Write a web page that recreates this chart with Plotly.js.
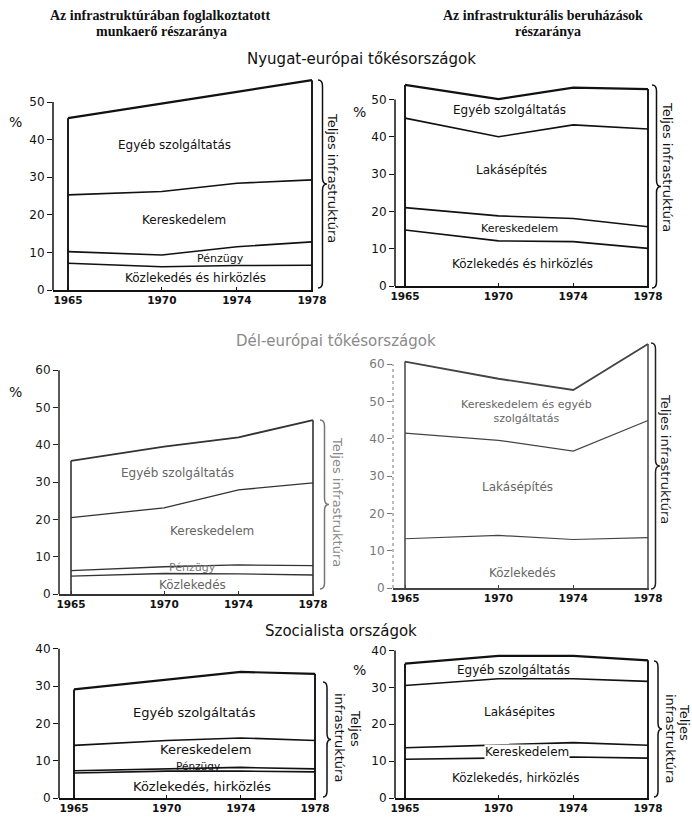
<!DOCTYPE html>
<html><head><meta charset="utf-8">
<script src="https://cdn.plot.ly/plotly-3.0.1.min.js"></script>
<style>body{margin:0;background:#fff}</style>
</head><body><div id="chart" style="width:692px;height:821px"></div>
<script>
// ---------- DATA ----------
const years = [1965, 1970, 1974, 1978];
const xTickText = ['1965', '1970', '1974', '1978'];

// 1: Nyugat-európai – foglalkoztatott munkaerő
const p1Kozl  = [7.1, 6.2, 6.5, 6.6];
const p1Penz  = [3.1, 3.1, 5.0, 6.2];
const p1Ker   = [15.1, 16.9, 16.9, 16.5];
const p1Egyeb = [20.4, 23.5, 24.3, 26.5];
// 2: Nyugat-európai – beruházások
const p2Kozl  = [15.0, 12.1, 11.9, 10.1];
const p2Ker   = [6.0, 6.7, 6.2, 5.8];
const p2Lakas = [24.0, 21.2, 25.1, 26.2];
const p2Egyeb = [8.9, 10.1, 10.0, 10.7];
// 3: Dél-európai – foglalkoztatott munkaerő
const p3Kozl  = [4.8, 5.5, 5.4, 5.1];
const p3Penz  = [1.45, 1.8, 2.4, 2.5];
const p3Ker   = [14.25, 15.8, 20.1, 22.2];
const p3Egyeb = [15.2, 16.4, 14.1, 16.8];
// 4: Dél-európai – beruházások
const p4Kozl     = [13.2, 14.1, 13.0, 13.5];
const p4Lakas    = [28.3, 25.5, 23.7, 31.4];
const p4KerEgyeb = [19.2, 16.5, 16.4, 20.5];
// 5: Szocialista – foglalkoztatott munkaerő
const p5Kozl  = [6.7, 7.2, 7.2, 7.0];
const p5Penz  = [0.6, 0.6, 1.0, 0.8];
const p5Ker   = [6.8, 7.6, 7.9, 7.6];
const p5Egyeb = [15.0, 16.4, 17.7, 17.9];
// 6: Szocialista – beruházások
const p6Kozl  = [10.5, 10.8, 11.1, 10.8];
const p6Ker   = [3.1, 3.5, 3.9, 3.5];
const p6Lakas = [16.9, 18.0, 17.3, 17.3];
const p6Egyeb = [5.9, 6.2, 6.2, 5.7];

const yTicks1 = [0, 10, 20, 30, 40, 50];
const yTicks2 = [0, 10, 20, 30, 40, 50];
const yTicks3 = [0, 10, 20, 30, 40, 50, 60];
const yTicks4 = [0, 10, 20, 30, 40, 50, 60];
const yTicks5 = [0, 10, 20, 30, 40];
const yTicks6 = [0, 10, 20, 30, 40];

// ---------- LAYOUT GEOMETRY (pixels) ----------
const W = 692, H = 821;
const FONT = 'DejaVu Sans';
const geo = [
  {ax: 53,  x65: 68,  x78: 312, xr: 313, y0: 290, ppu: 3.76, ytop: 57},
  {ax: 395, x65: 405, x78: 648, xr: 649, y0: 286, ppu: 3.73, ytop: 55},
  {ax: 59,  x65: 71,  x78: 313, xr: 314, y0: 594, ppu: 3.73, ytop: 62},
  {ax: 393, x65: 405, x78: 648, xr: 649, y0: 588, ppu: 3.73, ytop: 67},
  {ax: 59,  x65: 74,  x78: 315, xr: 316, y0: 798, ppu: 3.73, ytop: 41},
  {ax: 395, x65: 405, x78: 648, xr: 649, y0: 798, ppu: 3.69, ytop: 41}
];
const panels = [
  {series: [p1Kozl, p1Penz, p1Ker, p1Egyeb], names: ['Közlekedés és hirközlés','Pénzügy','Kereskedelem','Egyéb szolgáltatás'], ticks: yTicks1, color: '#111', w: 1.6},
  {series: [p2Kozl, p2Ker, p2Lakas, p2Egyeb], names: ['Közlekedés és hirközlés','Kereskedelem','Lakásépítés','Egyéb szolgáltatás'], ticks: yTicks2, color: '#111', w: 1.6},
  {series: [p3Kozl, p3Penz, p3Ker, p3Egyeb], names: ['Közlekedés','Pénzügy','Kereskedelem','Egyéb szolgáltatás'], ticks: yTicks3, color: '#333', w: 1.3},
  {series: [p4Kozl, p4Lakas, p4KerEgyeb], names: ['Közlekedés','Lakásépítés','Kereskedelem és egyéb szolgáltatás'], ticks: yTicks4, color: '#444', w: 1.2},
  {series: [p5Kozl, p5Penz, p5Ker, p5Egyeb], names: ['Közlekedés, hirközlés','Pénzügy','Kereskedelem','Egyéb szolgáltatás'], ticks: yTicks5, color: '#111', w: 1.6},
  {series: [p6Kozl, p6Ker, p6Lakas, p6Egyeb], names: ['Közlekedés, hirközlés','Kereskedelem','Lakásépites','Egyéb szolgáltatás'], ticks: yTicks6, color: '#111', w: 1.6}
];

const traces = [];
const layout = {
  width: W, height: H, margin: {l: 0, r: 0, t: 0, b: 0},
  paper_bgcolor: '#fff', plot_bgcolor: 'rgba(0,0,0,0)',
  showlegend: false, font: {family: FONT, color: '#111'},
  annotations: [], shapes: []
};

panels.forEach((p, i) => {
  const g = geo[i];
  const n = i + 1;
  const xa = n === 1 ? 'x' : 'x' + n, ya = n === 1 ? 'y' : 'y' + n;
  const ppy = (g.x78 - g.x65) / 13;
  const tickCol = i === 3 ? '#777' : (i === 2 ? '#222' : '#111');
  layout['xaxis' + (n === 1 ? '' : n)] = {
    domain: [g.ax / W, g.xr / W], anchor: ya,
    range: [1965 - (g.x65 - g.ax) / ppy, 1978 + (g.xr - g.x78) / ppy],
    tickvals: years, ticktext: xTickText, ticks: 'inside', ticklen: 3,
    tickcolor: p.color, showline: true, linecolor: p.color, linewidth: 1.5,
    showgrid: false, zeroline: false, fixedrange: true,
    tickfont: {family: FONT, size: 10.5, color: '#111', weight: 'bold'}
  };
  layout['yaxis' + (n === 1 ? '' : n)] = {
    domain: [1 - g.y0 / H, 1 - (g.y0 - g.ytop * g.ppu) / H], anchor: xa,
    range: [0, g.ytop], tickvals: p.ticks, ticks: 'outside', ticklen: 5,
    tickcolor: tickCol, showline: false, showgrid: false, zeroline: false,
    fixedrange: true, tickfont: {family: FONT, size: 12, color: tickCol}
  };
  // y axis line up to highest tick
  layout.shapes.push({type: 'line', xref: xa + ' domain', yref: ya, x0: 0, x1: 0,
    y0: 0, y1: p.ticks[p.ticks.length - 1],
    line: {color: tickCol, width: i === 3 ? 1 : 1.5, dash: i === 3 ? 'dot' : 'solid'}});

  // stacked area boundaries
  p.series.forEach((s, k) => {
    const top = k === p.series.length - 1;
    traces.push({
      x: years, y: s, name: p.names[k], xaxis: xa, yaxis: ya,
      type: 'scatter', mode: 'lines', stackgroup: 's' + n,
      fillcolor: 'rgba(0,0,0,0)',
      line: {color: p.color, width: top ? p.w + 0.6 : p.w, shape: 'linear'},
      hoverinfo: 'skip'
    });
  });
  // vertical edges at first and last year
  const totFirst = p.series.reduce((a, s) => a + s[0], 0);
  const totLast = p.series.reduce((a, s) => a + s[s.length - 1], 0);
  traces.push({x: [years[0], years[0]], y: [0, totFirst], xaxis: xa, yaxis: ya,
    type: 'scatter', mode: 'lines', line: {color: p.color, width: p.w + 0.3}, hoverinfo: 'skip'});
  traces.push({x: [years[3], years[3]], y: [0, totLast], xaxis: xa, yaxis: ya,
    type: 'scatter', mode: 'lines', line: {color: p.color, width: p.w + 0.3}, hoverinfo: 'skip'});
});

// ---------- TEXT LABELS ----------
function lab(n, x, y, text, opts) {
  const xa = n === 1 ? 'x' : 'x' + n, ya = n === 1 ? 'y' : 'y' + n;
  layout.annotations.push(Object.assign({xref: xa, yref: ya, x: x, y: y, text: text,
    showarrow: false, font: {family: FONT, size: 12, color: '#111'}}, opts || {}));
}
function ptext(px, py, text, font, extra) {
  layout.annotations.push(Object.assign({xref: 'paper', yref: 'paper', x: px / W, y: 1 - py / H,
    text: text, showarrow: false, xanchor: 'center', yanchor: 'middle',
    font: Object.assign({family: FONT, size: 12, color: '#111'}, font)}, extra || {}));
}

lab(1, 1970.7, 38.6, 'Egyéb szolgáltatás');
lab(1, 1971.2, 18.6, 'Kereskedelem');
lab(1, 1973.1, 8.4, 'Pénzügy', {font: {family: FONT, size: 11, color: '#111'}});
lab(1, 1971.8, 3.2, 'Közlekedés és hirközlés');

lab(2, 1970.6, 47.2, 'Egyéb szolgáltatás');
lab(2, 1970.7, 31.1, 'Lakásépítés');
lab(2, 1971.1, 15.3, 'Kereskedelem', {font: {family: FONT, size: 11, color: '#111'}});
lab(2, 1971.3, 6.0, 'Közlekedés és hirközlés');

const grey = {family: FONT, size: 12, color: '#666'};
lab(3, 1970.7, 32.4, 'Egyéb szolgáltatás', {font: grey});
lab(3, 1972.6, 16.9, 'Kereskedelem', {font: grey});
lab(3, 1971.5, 7.0, 'Pénzügy', {font: {family: FONT, size: 11, color: '#777'}});
lab(3, 1971.5, 2.4, 'Közlekedés', {font: grey});

lab(4, 1971.5, 47.2, 'Kereskedelem és egyéb<br>szolgáltatás', {font: {family: FONT, size: 11, color: '#666'}});
lab(4, 1971.0, 27.1, 'Lakásépítés', {font: grey});
lab(4, 1971.3, 4.0, 'Közlekedés', {font: grey});

lab(5, 1971.5, 22.8, 'Egyéb szolgáltatás', {font: {family: FONT, size: 13, color: '#111'}});
lab(5, 1972.1, 12.9, 'Kereskedelem', {font: {family: FONT, size: 13, color: '#111'}});
lab(5, 1971.7, 8.6, 'Pénzügy', {font: {family: FONT, size: 10.5, color: '#111'}});
lab(5, 1971.9, 3.0, 'Közlekedés, hirközlés', {font: {family: FONT, size: 13, color: '#111'}});

lab(6, 1970.8, 34.7, 'Egyéb szolgáltatás');
lab(6, 1971.1, 23.4, 'Lakásépites');
lab(6, 1971.5, 12.4, 'Kereskedelem', {bgcolor: '#fff', borderpad: 0});
lab(6, 1970.9, 5.4, 'Közlekedés, hirközlés');

// headers
const serif = {family: 'Liberation Serif', size: 14, color: '#111', weight: 'bold'};
ptext(160, 15, 'Az infrastruktúrában foglalkoztatott', serif);
ptext(161, 31, 'munkaerő részaránya', serif);
ptext(543, 15, 'Az infrastrukturális beruházások', serif);
ptext(548, 31, 'részaránya', serif);

ptext(361, 59, 'Nyugat-európai tőkésországok', {size: 15});
ptext(336, 341, 'Dél-európai tőkésországok', {size: 15, color: '#8a8a8a'});
ptext(341, 631, 'Szocialista országok', {size: 15});

// percent signs
ptext(15, 122, '%', {size: 14});
ptext(359, 112, '%', {size: 14});
ptext(15, 392, '%', {size: 14});
ptext(359, 670, '%', {size: 14});

// "Teljes infrastruktúra" texts
const rot = {textangle: 90};
ptext(333, 178, 'Teljes infrastruktúra', {size: 13}, rot);
ptext(667, 167, 'Teljes infrastruktúra', {size: 13}, rot);
ptext(338, 502, 'Teljes infrastruktúra', {size: 13, color: '#888'}, rot);
ptext(666, 459, 'Teljes infrastruktúra', {size: 13, color: '#222'}, rot);
ptext(356, 728, 'Teljes', {size: 13}, rot);
ptext(340, 737, 'infrastruktúra', {size: 13}, rot);
ptext(685, 722, 'Teljes', {size: 13}, rot);
ptext(671, 738, 'infrastruktúra', {size: 13}, rot);

// curly braces (decoration)
function brace(xl, yt, yb, w) {
  const xm = xl + w / 2, xe = xl + w, ym = (yt + yb) / 2, r = Math.min(6, (yb - yt) / 8);
  const X = v => (v / W).toFixed(5), Y = v => (1 - v / H).toFixed(5);
  return `M ${X(xl)},${Y(yt)} Q ${X(xm)},${Y(yt)} ${X(xm)},${Y(yt + r)} L ${X(xm)},${Y(ym - r)} ` +
    `Q ${X(xm)},${Y(ym)} ${X(xe)},${Y(ym)} Q ${X(xm)},${Y(ym)} ${X(xm)},${Y(ym + r)} ` +
    `L ${X(xm)},${Y(yb - r)} Q ${X(xm)},${Y(yb)} ${X(xl)},${Y(yb)}`;
}
[[318, 80, 288, 9, '#111'], [652, 85, 288, 9, '#111'], [320, 420, 589, 9, '#777'],
 [651, 343, 589, 9, '#222'], [323, 682, 797, 8, '#111'], [654, 661, 797, 8, '#111']]
  .forEach(b => layout.shapes.push({type: 'path', xref: 'paper', yref: 'paper',
    path: brace(b[0], b[1], b[2], b[3]), line: {color: b[4], width: 1.5}}));

Plotly.newPlot('chart', traces, layout, {staticPlot: true, displayModeBar: false});
</script>
</body></html>
